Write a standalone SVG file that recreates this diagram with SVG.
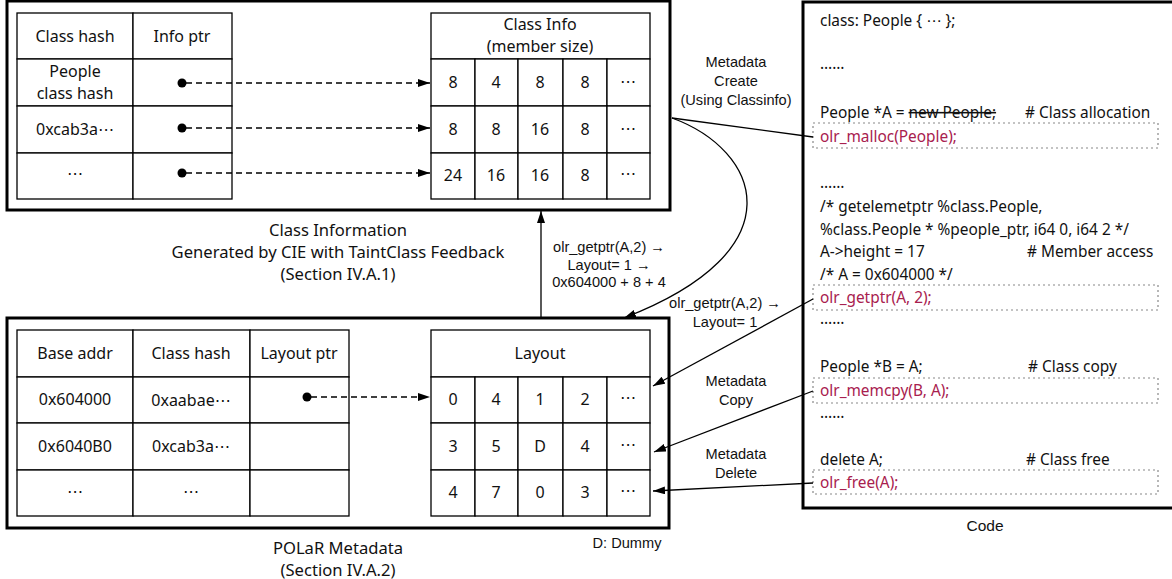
<svg xmlns="http://www.w3.org/2000/svg" width="1172" height="579" viewBox="0 0 1172 579">
<defs>
<marker id="arr" viewBox="0 0 12 8" refX="12" refY="4" markerWidth="12" markerHeight="8" markerUnits="userSpaceOnUse" orient="auto">
<path d="M0,0 L12,4 L0,8 Z" fill="#000"/>
</marker>
<style>
.frame{fill:#fff;stroke:#000;stroke-width:3}
.cell{fill:#fff;stroke:#000;stroke-width:1.3}
.t{font-family:"Noto Sans","DejaVu Sans",sans-serif;font-size:16px;fill:#111;text-anchor:middle;dominant-baseline:central}
.cap{font-size:16.6px}
.lbl{font-family:"Liberation Sans",Arial,sans-serif;font-size:14.6px;fill:#111;text-anchor:middle;dominant-baseline:central}
.code{font-family:"Noto Sans","DejaVu Sans",sans-serif;font-size:15.4px;fill:#111;dominant-baseline:central}
.red{fill:#a8204e}
.dbox{fill:none;stroke:#888;stroke-width:1.2;stroke-dasharray:2 3}
.dash{fill:none;stroke:#000;stroke-width:1.3;stroke-dasharray:6 4}
.con{fill:none;stroke:#000;stroke-width:1.3}
</style>
</defs>

<g id="class-info-frame">
<rect class="frame" x="7" y="1" width="663" height="209"/>
</g>

<g id="class-hash-table">
<rect class="cell" x="17" y="13" width="116" height="46"/>
<rect class="cell" x="133" y="13" width="99" height="46"/>
<rect class="cell" x="17" y="59" width="116" height="47"/>
<rect class="cell" x="133" y="59" width="99" height="47"/>
<rect class="cell" x="17" y="106" width="116" height="47"/>
<rect class="cell" x="133" y="106" width="99" height="47"/>
<rect class="cell" x="17" y="153" width="116" height="46"/>
<rect class="cell" x="133" y="153" width="99" height="46"/>
<text class="t" x="75" y="36">Class hash</text>
<text class="t" x="182" y="36">Info ptr</text>
<text class="t" x="75" y="71">People</text>
<text class="t" x="75" y="93">class hash</text>
<text class="t" x="75" y="129">0xcab3a⋯</text>
<text class="t" x="75" y="173">⋯</text>
<circle cx="182" cy="83" r="4.5"/>
<circle cx="182" cy="128" r="4.5"/>
<circle cx="182" cy="173" r="4.5"/>
</g>

<g id="class-info-table">
<rect class="cell" x="431" y="13" width="219" height="46"/>
<text class="t" x="540" y="24">Class Info</text>
<text class="t" x="540" y="46">(member size)</text>
<g>
<rect class="cell" x="431" y="59" width="44" height="47"/><rect class="cell" x="475" y="59" width="43" height="47"/><rect class="cell" x="518" y="59" width="45" height="47"/><rect class="cell" x="563" y="59" width="44" height="47"/><rect class="cell" x="607" y="59" width="43" height="47"/>
<rect class="cell" x="431" y="106" width="44" height="47"/><rect class="cell" x="475" y="106" width="43" height="47"/><rect class="cell" x="518" y="106" width="45" height="47"/><rect class="cell" x="563" y="106" width="44" height="47"/><rect class="cell" x="607" y="106" width="43" height="47"/>
<rect class="cell" x="431" y="153" width="44" height="46"/><rect class="cell" x="475" y="153" width="43" height="46"/><rect class="cell" x="518" y="153" width="45" height="46"/><rect class="cell" x="563" y="153" width="44" height="46"/><rect class="cell" x="607" y="153" width="43" height="46"/>
</g>
<text class="t" x="453" y="82">8</text><text class="t" x="496" y="82">4</text><text class="t" x="540" y="82">8</text><text class="t" x="585" y="82">8</text><text class="t" x="628" y="81">⋯</text>
<text class="t" x="453" y="129">8</text><text class="t" x="496" y="129">8</text><text class="t" x="540" y="129">16</text><text class="t" x="585" y="129">8</text><text class="t" x="628" y="128">⋯</text>
<text class="t" x="453" y="175">24</text><text class="t" x="496" y="175">16</text><text class="t" x="540" y="175">16</text><text class="t" x="585" y="175">8</text><text class="t" x="628" y="173">⋯</text>
</g>

<g id="class-info-caption">
<text class="t cap" x="338" y="229">Class Information</text>
<text class="t cap" x="338" y="251">Generated by CIE with TaintClass Feedback</text>
<text class="t cap" x="338" y="273">(Section IV.A.1)</text>
</g>

<g id="polar-frame">
<rect class="frame" x="7" y="318" width="662" height="210"/>
</g>

<g id="polar-table">
<rect class="cell" x="17" y="330" width="116" height="47"/><rect class="cell" x="133" y="330" width="117" height="47"/><rect class="cell" x="250" y="330" width="99" height="47"/>
<rect class="cell" x="17" y="377" width="116" height="46"/><rect class="cell" x="133" y="377" width="117" height="46"/><rect class="cell" x="250" y="377" width="99" height="46"/>
<rect class="cell" x="17" y="423" width="116" height="47"/><rect class="cell" x="133" y="423" width="117" height="47"/><rect class="cell" x="250" y="423" width="99" height="47"/>
<rect class="cell" x="17" y="470" width="116" height="46"/><rect class="cell" x="133" y="470" width="117" height="46"/><rect class="cell" x="250" y="470" width="99" height="46"/>
<text class="t" x="75" y="353">Base addr</text>
<text class="t" x="191" y="353">Class hash</text>
<text class="t" x="299" y="353">Layout ptr</text>
<text class="t" x="75" y="399">0x604000</text>
<text class="t" x="191" y="400">0xaabae⋯</text>
<text class="t" x="75" y="446">0x6040B0</text>
<text class="t" x="191" y="446">0xcab3a⋯</text>
<text class="t" x="75" y="491">⋯</text>
<text class="t" x="191" y="491">⋯</text>
<circle cx="307" cy="397" r="4.5"/>
</g>

<g id="layout-table">
<rect class="cell" x="431" y="330" width="219" height="47"/>
<text class="t" x="540" y="353">Layout</text>
<rect class="cell" x="431" y="377" width="44" height="46"/><rect class="cell" x="475" y="377" width="43" height="46"/><rect class="cell" x="518" y="377" width="45" height="46"/><rect class="cell" x="563" y="377" width="44" height="46"/><rect class="cell" x="607" y="377" width="43" height="46"/>
<rect class="cell" x="431" y="423" width="44" height="47"/><rect class="cell" x="475" y="423" width="43" height="47"/><rect class="cell" x="518" y="423" width="45" height="47"/><rect class="cell" x="563" y="423" width="44" height="47"/><rect class="cell" x="607" y="423" width="43" height="47"/>
<rect class="cell" x="431" y="470" width="44" height="46"/><rect class="cell" x="475" y="470" width="43" height="46"/><rect class="cell" x="518" y="470" width="45" height="46"/><rect class="cell" x="563" y="470" width="44" height="46"/><rect class="cell" x="607" y="470" width="43" height="46"/>
<text class="t" x="453" y="399">0</text><text class="t" x="496" y="399">4</text><text class="t" x="540" y="399">1</text><text class="t" x="585" y="399">2</text><text class="t" x="628" y="397">⋯</text>
<text class="t" x="453" y="446">3</text><text class="t" x="496" y="446">5</text><text class="t" x="540" y="446">D</text><text class="t" x="585" y="446">4</text><text class="t" x="628" y="444">⋯</text>
<text class="t" x="453" y="492">4</text><text class="t" x="496" y="492">7</text><text class="t" x="540" y="492">0</text><text class="t" x="585" y="492">3</text><text class="t" x="628" y="490">⋯</text>
</g>

<g id="polar-caption">
<text class="t cap" x="338" y="547">POLaR Metadata</text>
<text class="t cap" x="338" y="569">(Section IV.A.2)</text>
<text class="lbl" x="627" y="543">D: Dummy</text>
</g>

<g id="code-panel">
<rect class="frame" x="803" y="2" width="380" height="506"/>
<text class="code" x="820" y="20">class: People { ⋯ };</text>
<text class="code" x="820" y="63">……</text>
<text class="code" x="820" y="112">People *A = <tspan text-decoration="line-through">new People;</tspan></text>
<text class="code" x="1025" y="112"># Class allocation</text>
<rect class="dbox" x="813" y="123" width="345" height="25"/>
<text class="code red" x="820" y="136">olr_malloc(People);</text>
<text class="code" x="820" y="182">……</text>
<text class="code" x="820" y="206">/* getelemetptr %class.People,</text>
<text class="code" x="820" y="229">%class.People * %people_ptr, i64 0, i64 2 */</text>
<text class="code" x="820" y="251">A-&gt;height = 17</text>
<text class="code" x="1027" y="251"># Member access</text>
<text class="code" x="820" y="274">/* A = 0x604000 */</text>
<rect class="dbox" x="813" y="285" width="345" height="25"/>
<text class="code red" x="820" y="297">olr_getptr(A, 2);</text>
<text class="code" x="820" y="318">……</text>
<text class="code" x="820" y="366">People *B = A;</text>
<text class="code" x="1028" y="366"># Class copy</text>
<rect class="dbox" x="813" y="378" width="345" height="25"/>
<text class="code red" x="820" y="390">olr_memcpy(B, A);</text>
<text class="code" x="820" y="412">……</text>
<text class="code" x="820" y="459">delete A;</text>
<text class="code" x="1026" y="459"># Class free</text>
<rect class="dbox" x="813" y="470" width="345" height="24"/>
<text class="code red" x="820" y="482">olr_free(A);</text>
<text class="lbl" x="985" y="525" style="font-size:15.5px">Code</text>
</g>

<g id="connectors">
<path class="dash" d="M186,83 H430" marker-end="url(#arr)"/>
<path class="dash" d="M186,128 H430" marker-end="url(#arr)"/>
<path class="dash" d="M186,173 H430" marker-end="url(#arr)"/>
<path class="dash" d="M311,397 H430" marker-end="url(#arr)"/>
<path class="con" d="M672,118 L813,137"/>
<path class="con" d="M672,118 C760,150 800,250 624,318" marker-end="url(#arr)"/>
<path class="con" d="M541,318 V211" marker-end="url(#arr)"/>
<path class="con" d="M813,299 L653,386" marker-end="url(#arr)"/>
<path class="con" d="M813,391 L654,452" marker-end="url(#arr)"/>
<path class="con" d="M813,483 L653,491" marker-end="url(#arr)"/>
<text class="lbl" x="736" y="62">Metadata</text>
<text class="lbl" x="736" y="81">Create</text>
<text class="lbl" x="736" y="100">(Using Classinfo)</text>
<text class="lbl" x="609" y="247">olr_getptr(A,2) →</text>
<text class="lbl" x="609" y="265">Layout= 1 →</text>
<text class="lbl" x="609" y="282">0x604000 + 8 + 4</text>
<text class="lbl" x="725" y="303">olr_getptr(A,2) →</text>
<text class="lbl" x="725" y="322">Layout= 1</text>
<text class="lbl" x="736" y="381">Metadata</text>
<text class="lbl" x="736" y="400">Copy</text>
<text class="lbl" x="736" y="454">Metadata</text>
<text class="lbl" x="736" y="473">Delete</text>
</g>
</svg>
